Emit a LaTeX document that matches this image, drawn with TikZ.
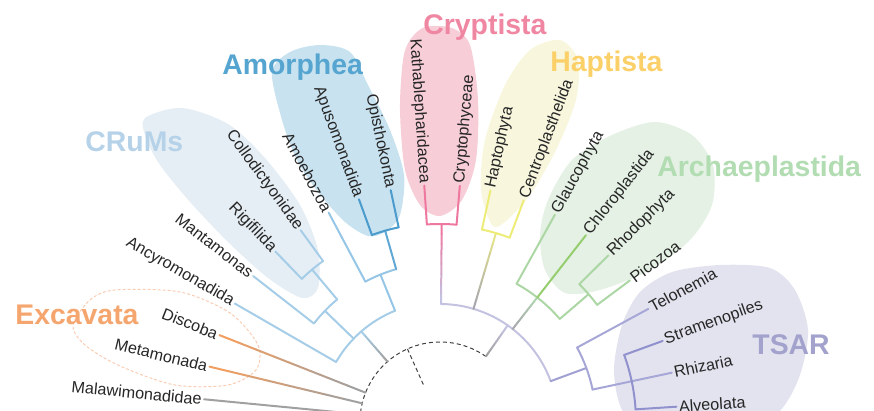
\documentclass[tikz,border=0pt]{standalone}
\usepackage{fontspec}
\setmainfont{Liberation Sans}
\usetikzlibrary{calc}

\definecolor{rootgray}{RGB}{160,160,160}
\definecolor{excavline}{RGB}{242,158,96}
\definecolor{excavtitle}{RGB}{245,165,110}
\definecolor{excavrim}{RGB}{249,205,180}
\definecolor{crumsline}{RGB}{165,205,232}
\definecolor{crumstitle}{RGB}{182,210,232}
\definecolor{crumsblob}{RGB}{230,238,245}
\definecolor{amorline}{RGB}{150,198,230}
\definecolor{amordark}{RGB}{75,155,205}
\definecolor{amortitle}{RGB}{85,165,208}
\definecolor{amorblob}{RGB}{200,226,240}
\definecolor{diaphline}{RGB}{195,195,225}
\definecolor{crypline}{RGB}{238,120,160}
\definecolor{cryptitle}{RGB}{240,135,162}
\definecolor{crypblob}{RGB}{247,205,215}
\definecolor{haptline}{RGB}{238,236,120}
\definecolor{hapttitle}{RGB}{251,208,105}
\definecolor{haptblob}{RGB}{248,247,222}
\definecolor{archline}{RGB}{172,215,165}
\definecolor{chloline}{RGB}{150,205,110}
\definecolor{archtitle}{RGB}{178,220,178}
\definecolor{archblob}{RGB}{228,241,228}
\definecolor{tsarline}{RGB}{145,145,205}
\definecolor{tsartitle}{RGB}{162,162,205}
\definecolor{tsarblob}{RGB}{226,227,239}

% branch whose colour runs from #3 (at #1) to #4 (at #2)
\newcommand{\fadeline}[4]{%
  \foreach \k in {0,...,7}{%
    \pgfmathtruncatemacro{\mixpc}{100*\k/7}%
    \pgfmathsetmacro{\fa}{\k/8}\pgfmathsetmacro{\fb}{(\k+1)/8}%
    \draw[branch, #4!\mixpc!#3] ($(#1)!\fa!(#2)$) -- ($(#1)!\fb!(#2)$);}}

\begin{document}
\begin{tikzpicture}[x=0.5pt,y=0.5pt,
  branch/.style={line width=1pt, line cap=round},
  taxon/.style={font=\fontsize{8.1}{9.7}\selectfont, text=black!85, inner sep=1pt},
  lefttip/.style={taxon, anchor=east, rotate=#1-180},
  righttip/.style={taxon, anchor=west, rotate=#1},
  cladename/.style={font=\fontsize{14.2}{17}\selectfont\bfseries, inner sep=0pt, anchor=base west}]
\useasboundingbox (-440,11) rectangle (434,422);

% shaded groups
\fill[crumsblob] plot[smooth cycle] coordinates {(-295,304) (-258,314) (-212,298) (-175,264) (-140,217) (-122,172) (-122,134) (-138,124) (-172,144) (-212,180) (-250,220) (-280,257) (-294,284)};
\fill[amorblob] plot[smooth cycle] coordinates {(-168,350) (-150,370) (-120,377) (-90,370) (-72,337) (-50,292) (-36,247) (-40,207) (-55,190) (-72,186) (-95,200) (-122,230) (-143,262) (-158,302)};
\fill[crypblob] plot[smooth cycle] coordinates {(-30,382) (-15,395) (12,394) (30,377) (38,322) (36,262) (22,222) (0,206) (-20,217) (-35,252) (-40,312) (-37,362)};
\fill[haptblob] plot[smooth cycle] coordinates {(52,197) (41,232) (45,282) (65,337) (90,372) (120,382) (138,362) (136,322) (116,272) (90,227) (65,200)};
\fill[archblob] plot[smooth cycle] coordinates {(108,222) (132,262) (172,287) (215,300) (252,287) (273,257) (272,217) (250,182) (210,152) (160,132) (125,129) (105,152) (100,187)};
\fill[tsarblob] plot[smooth cycle] coordinates {(182,12) (174,52) (182,97) (200,130) (232,150) (280,157) (330,154) (355,132) (368,92) (360,47) (340,11) (300,-18) (210,-18)};
\draw[excavrim, line width=0.5pt, dash pattern=on 1.5pt off 1pt] plot[smooth cycle] coordinates {(-367,97) (-350,122) (-325,132) (-260,130) (-210,109) (-182,77) (-184,52) (-212,37) (-265,37) (-320,56) (-355,77)};

% unresolved root
\coordinate (root-r) at (55:80);
\coordinate (root-in) at (114:80);
\coordinate (root-end) at (114:40);
\draw[black!75, line width=0.5pt, dash pattern=on 2pt off 1.5pt] (root-r) arc[start angle=55, end angle=180, radius=80];
\draw[black!75, line width=0.5pt, dash pattern=on 2pt off 1.5pt] (root-in) -- (root-end);

% Malawimonadidae and Excavata
\coordinate (malaw-base) at (174.5:80);  \coordinate (malaw) at (174.5:237);
\coordinate (meta-base) at (166.5:80);   \coordinate (meta) at (166.5:237);
\coordinate (disc-base) at (158.5:80);   \coordinate (disc) at (158.5:237);
\draw[branch, rootgray] (malaw-base) -- (malaw);
\fadeline{meta-base}{meta}{rootgray}{excavline}
\fadeline{disc-base}{disc}{rootgray}{excavline}

% CRuMs and Amorphea
\coordinate (lft-base) at (131:80);  \coordinate (lft) at (131:120);
\fadeline{lft-base}{lft}{rootgray}{crumsline}
\coordinate (lft-a) at (150:120);  \coordinate (lft-b) at (112:120);
\draw[branch, crumsline] (lft-a) arc[start angle=150, end angle=112, radius=120];
\coordinate (ancy) at (150:237);
\draw[branch, crumsline] (lft-a) -- (ancy);
\coordinate (crum-base) at (136:120);  \coordinate (crum) at (136:160);
\coordinate (crum-a) at (142:160);  \coordinate (crum-b) at (130:160);
\draw[branch, crumsline] (crum-base) -- (crum);
\draw[branch, crumsline] (crum-a) arc[start angle=142, end angle=130, radius=160];
\coordinate (manta) at (142:237);
\draw[branch, crumsline] (crum-a) -- (manta);
\coordinate (rc) at (130:199);  \coordinate (rc-a) at (134:199);  \coordinate (rc-b) at (126:199);
\draw[branch, crumsline] (crum-b) -- (rc);
\draw[branch, crumsline] (rc-a) arc[start angle=134, end angle=126, radius=199];
\coordinate (rigi) at (134:237);  \coordinate (collo) at (126:237);
\draw[branch, crumsline] (rc-a) -- (rigi);
\draw[branch, crumsline] (rc-b) -- (collo);
\coordinate (amor) at (112:159);  \coordinate (amor-a) at (118:159);  \coordinate (amor-b) at (106:159);
\draw[branch, amorline] (lft-b) -- (amor);
\draw[branch, amorline] (amor-a) arc[start angle=118, end angle=106, radius=159];
\coordinate (amoe) at (118:237);
\draw[branch, amorline] (amor-a) -- (amoe);
\coordinate (ao) at (106:199);  \coordinate (ao-a) at (110:199);  \coordinate (ao-b) at (102:199);
\draw[branch, amordark!70!amorline] (amor-b) -- (ao);
\draw[branch, amordark] (ao-a) arc[start angle=110, end angle=102, radius=199];
\coordinate (apus) at (110:237);  \coordinate (opis) at (102:237);
\draw[branch, amordark] (ao-a) -- (apus);
\draw[branch, amordark] (ao-b) -- (opis);

% Diaphoretickes
\coordinate (rgt) at (55:118);
\fadeline{root-r}{rgt}{rootgray}{diaphline}
\coordinate (rgt-a) at (89.5:118);
\draw[branch, diaphline] (rgt-a) arc[start angle=89.5, end angle=20.25, radius=118];
% Cryptista
\coordinate (cry) at (89.5:198);  \coordinate (cry-a) at (93.8:198);  \coordinate (cry-b) at (85.2:198);
\fadeline{rgt-a}{cry}{diaphline}{crypline}
\draw[branch, crypline] (cry-a) arc[start angle=93.8, end angle=85.2, radius=198];
\coordinate (kath) at (93.8:237);  \coordinate (cryp) at (85.2:237);
\draw[branch, crypline] (cry-a) -- (kath);
\draw[branch, crypline] (cry-b) -- (cryp);
% Haptista
\coordinate (hap-base) at (73.5:118);  \coordinate (hap) at (73.5:197);
\coordinate (hap-a) at (77.7:197);  \coordinate (hap-b) at (69.3:197);
\fadeline{hap-base}{hap}{rootgray!80!diaphline}{haptline}
\draw[branch, haptline] (hap-a) arc[start angle=77.7, end angle=69.3, radius=197];
\coordinate (hapto) at (77.7:237);  \coordinate (centro) at (69.3:237);
\draw[branch, haptline] (hap-a) -- (hapto);
\draw[branch, haptline] (hap-b) -- (centro);
% Archaeplastida
\coordinate (arch-base) at (52:118);  \coordinate (arch) at (52:158);
\coordinate (arch-a) at (61:158);  \coordinate (arch-b) at (40.7:158);
\fadeline{arch-base}{arch}{rootgray!80!diaphline}{archline}
\draw[branch, archline] (arch-a) arc[start angle=61, end angle=40.7, radius=158];
\coordinate (glau) at (61:237);  \coordinate (chlo) at (52:237);
\draw[branch, archline] (arch-a) -- (glau);
\draw[branch, chloline] (arch) -- (chlo);
\coordinate (rp) at (40.7:196);  \coordinate (rp-a) at (44.7:196);  \coordinate (rp-b) at (36.7:196);
\draw[branch, archline] (arch-b) -- (rp);
\draw[branch, archline] (rp-a) arc[start angle=44.7, end angle=36.7, radius=196];
\coordinate (rhod) at (44.7:237);  \coordinate (pico) at (36.7:237);
\draw[branch, archline] (rp-a) -- (rhod);
\draw[branch, archline] (rp-b) -- (pico);
% TSAR
\coordinate (tsar-base) at (20.25:118);  \coordinate (tsar) at (20.25:156);
\coordinate (tsar-a) at (28.5:156);  \coordinate (tsar-b) at (12:156);
\draw[branch, tsarline!70!diaphline] (tsar-base) -- (tsar);
\draw[branch, tsarline!80] (tsar-a) arc[start angle=28.5, end angle=12, radius=156];
\coordinate (telo) at (28.5:237);  \coordinate (rhiz) at (12:237);
\draw[branch, tsarline!80] (tsar-a) -- (telo);
\draw[branch, tsarline!80] (tsar-b) -- (rhiz);
\coordinate (sar-a) at (20:196);  \coordinate (sar-b) at (3.7:196);
\draw[branch, tsarline] (sar-a) arc[start angle=20, end angle=3.7, radius=196];
\coordinate (stram) at (20:237);  \coordinate (alve) at (3.7:237);
\draw[branch, tsarline] (sar-a) -- (stram);
\draw[branch, tsarline] (sar-b) -- (alve);

% taxon labels
\node[lefttip=174.5] (malaw-lab) at (malaw) {Malawimonadidae};
\node[lefttip=166.5] (meta-lab) at (meta) {Metamonada};
\node[lefttip=158.5] (disc-lab) at (disc) {Discoba};
\node[lefttip=150] (ancy-lab) at (ancy) {Ancyromonadida};
\node[lefttip=142] (manta-lab) at (manta) {Mantamonas};
\node[lefttip=134] (rigi-lab) at (rigi) {Rigifilida};
\node[lefttip=126] (collo-lab) at (collo) {Collodictyonidae};
\node[lefttip=118] (amoe-lab) at (amoe) {Amoebozoa};
\node[lefttip=110] (apus-lab) at (apus) {Apusomonadida};
\node[lefttip=102] (opis-lab) at (opis) {Opisthokonta};
\node[lefttip=93.8] (kath-lab) at (kath) {Kathablepharidacea};
\node[righttip=85.2] (cryp-lab) at (cryp) {Cryptophyceae};
\node[righttip=77.7] (hapto-lab) at (hapto) {Haptophyta};
\node[righttip=69.3] (centro-lab) at (centro) {Centroplasthelida};
\node[righttip=61] (glau-lab) at (glau) {Glaucophyta};
\node[righttip=52] (chlo-lab) at (chlo) {Chloroplastida};
\node[righttip=44.7] (rhod-lab) at (rhod) {Rhodophyta};
\node[righttip=36.7] (pico-lab) at (pico) {Picozoa};
\node[righttip=28.5] (telo-lab) at (telo) {Telonemia};
\node[righttip=20] (stram-lab) at (stram) {Stramenopiles};
\node[righttip=12] (rhiz-lab) at (rhiz) {Rhizaria};
\node[righttip=3.7] (alve-lab) at (alve) {Alveolata};

% group names
\node[cladename, text=excavtitle] (excavata) at (-425,97) {Excavata};
\node[cladename, text=crumstitle] (crums) at (-355,270) {CRuMs};
\node[cladename, text=amortitle] (amorphea) at (-218,347) {Amorphea};
\node[cladename, text=cryptitle] (cryptista) at (-17,387) {Cryptista};
\node[cladename, text=hapttitle] (haptista) at (110,350) {Haptista};
\node[cladename, text=archtitle] (archaeplastida) at (217,245) {Archaeplastida};
\node[cladename, text=tsartitle] (tsar-name) at (312,67) {TSAR};
\end{tikzpicture}
\end{document}
